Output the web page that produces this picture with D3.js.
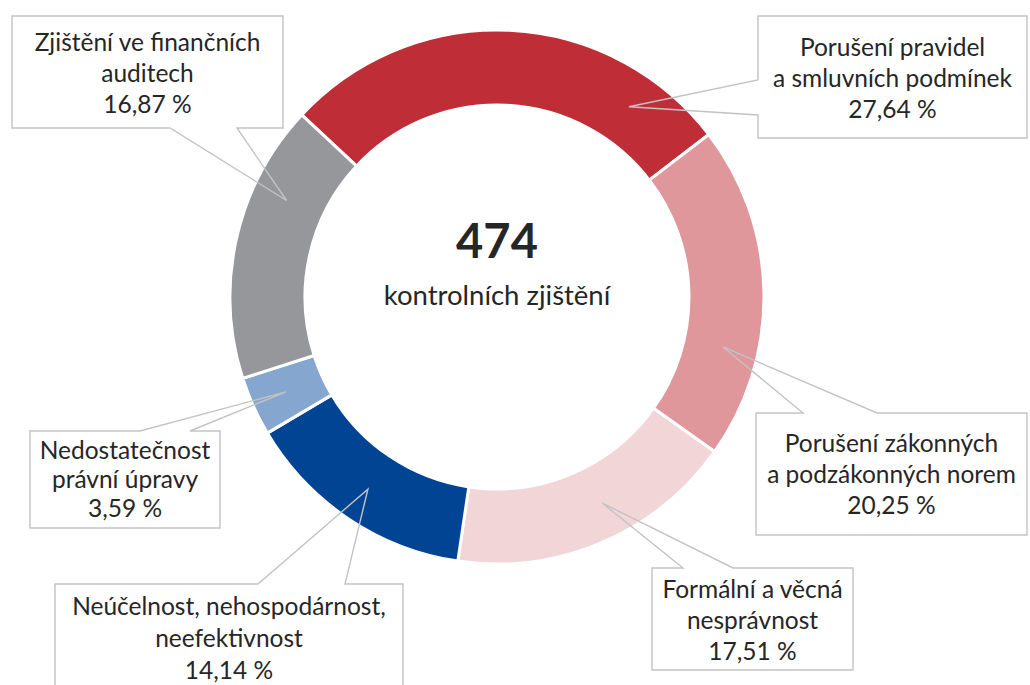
<!DOCTYPE html>
<html>
<head>
<meta charset="utf-8">
<script src="https://cdn.jsdelivr.net/npm/d3@7"></script>
<style>
  body { margin: 0; background: #fff; }
  text { font-family: Lato, "Open Sans", sans-serif; fill: #262626; }
</style>
</head>
<body>
<div id="chart"></div>
<script>
// data
var categories = [
    "Porušení pravidel a smluvních podmínek",
    "Porušení zákonných a podzákonných norem",
    "Formální a věcná nesprávnost",
    "Neúčelnost, nehospodárnost, neefektivnost",
    "Nedostatečnost právní úpravy",
    "Zjištění ve finančních auditech"
];
var labelLines = [
    ["Porušení pravidel", "a smluvních podmínek"],
    ["Porušení zákonných", "a podzákonných norem"],
    ["Formální a věcná", "nesprávnost"],
    ["Neúčelnost, nehospodárnost,", "neefektivnost"],
    ["Nedostatečnost", "právní úpravy"],
    ["Zjištění ve finančních", "auditech"]
];
var values = [27.64, 20.25, 17.51, 14.14, 3.59, 16.87];
var colors = ["#bf2e37", "#df979b", "#f2d5d7", "#014494", "#85a6ce", "#96979b"];
var totalCount = 474;
var totalLabel = "kontrolních zjištění";

// callout placement (box, which side the pointer leaves from, pointer base, tip angle shift)
var callouts = [
    { box: [758, 16, 1027, 138], side: "left",   base: [80, 115],  shift: 32,  ty: 56,  lh: 31 },
    { box: [756, 413, 1027, 535], side: "top",   base: [803, 877], shift: 13.5, ty: 452, lh: 31 },
    { box: [652, 568, 853, 670], side: "top",    base: [683, 733], shift: -4,  ty: 598, lh: 31 },
    { box: [55, 584, 403, 710], side: "top",     base: [258, 345], shift: 0,   ty: 615, lh: 32 },
    { box: [30, 431, 220, 528], side: "top",     base: [140, 190], shift: 0,   ty: 459, lh: 29 },
    { box: [12, 16, 283, 128], side: "bottom",   base: [170, 237], shift: 12,  ty: 51,  lh: 31 }
];

var svgWidth = 1030, svgHeight = 685;
var cx = 497, cy = 297;
var outerR = 267, innerR = 192;
var startDeg = -47;

var svg = d3.select("#chart").append("svg")
    .attr("width", svgWidth)
    .attr("height", svgHeight);

var pie = d3.pie()
    .sort(null)
    .startAngle(startDeg * Math.PI / 180)
    .endAngle(startDeg * Math.PI / 180 + 2 * Math.PI);

var arc = d3.arc().innerRadius(innerR).outerRadius(outerR);

var arcs = pie(values);

var g = svg.append("g").attr("transform", "translate(" + cx + "," + cy + ")");

g.selectAll("path.slice")
    .data(arcs)
    .enter().append("path")
    .attr("class", "slice")
    .attr("d", arc)
    .attr("fill", (d, i) => colors[i])
    .attr("stroke", "#fff")
    .attr("stroke-width", 3);

// centre text
g.append("text")
    .attr("text-anchor", "middle")
    .attr("y", -39)
    .style("font-size", "47px")
    .style("font-weight", "bold")
    .text(totalCount);

g.append("text")
    .attr("text-anchor", "middle")
    .attr("y", 8)
    .style("font-size", "27.5px")
    .text(totalLabel);

var fmt = d3.format(".2f");
function pct(v) { return fmt(v).replace(".", ",") + " %"; }

function calloutPath(c, tip) {
    var x0 = c.box[0], y0 = c.box[1], x1 = c.box[2], y1 = c.box[3];
    var a = c.base[0], b = c.base[1];
    var t = tip[0] + "," + tip[1];
    if (c.side == "top") {
        return "M" + x0 + "," + y0 + "L" + a + "," + y0 + "L" + t + "L" + b + "," + y0 +
            "L" + x1 + "," + y0 + "L" + x1 + "," + y1 + "L" + x0 + "," + y1 + "Z";
    }
    if (c.side == "bottom") {
        return "M" + x0 + "," + y0 + "L" + x1 + "," + y0 + "L" + x1 + "," + y1 +
            "L" + b + "," + y1 + "L" + t + "L" + a + "," + y1 + "L" + x0 + "," + y1 + "Z";
    }
    // left
    return "M" + x0 + "," + y0 + "L" + x1 + "," + y0 + "L" + x1 + "," + y1 + "L" + x0 + "," + y1 +
        "L" + x0 + "," + b + "L" + t + "L" + x0 + "," + a + "Z";
}

var tipR = (innerR + outerR) / 2 + 2;

arcs.forEach(function (d, i) {
    var c = callouts[i];
    var ang = (d.startAngle + d.endAngle) / 2 + c.shift * Math.PI / 180;
    var tip = [cx + tipR * Math.sin(ang), cy - tipR * Math.cos(ang)];

    svg.append("path")
        .attr("d", calloutPath(c, tip))
        .attr("fill", "none")
        .attr("stroke", "#c3c3c3")
        .attr("stroke-width", 1.4)
        .attr("stroke-linejoin", "miter");

    var tx = (c.box[0] + c.box[2]) / 2;
    var lines = labelLines[i].concat([pct(values[i])]);
    var txt = svg.append("text")
        .attr("text-anchor", "middle")
        .style("font-size", "24.5px");
    lines.forEach(function (l, k) {
        txt.append("tspan")
            .attr("x", tx)
            .attr("y", c.ty + k * c.lh)
            .text(l);
    });
});
</script>
</body>
</html>
